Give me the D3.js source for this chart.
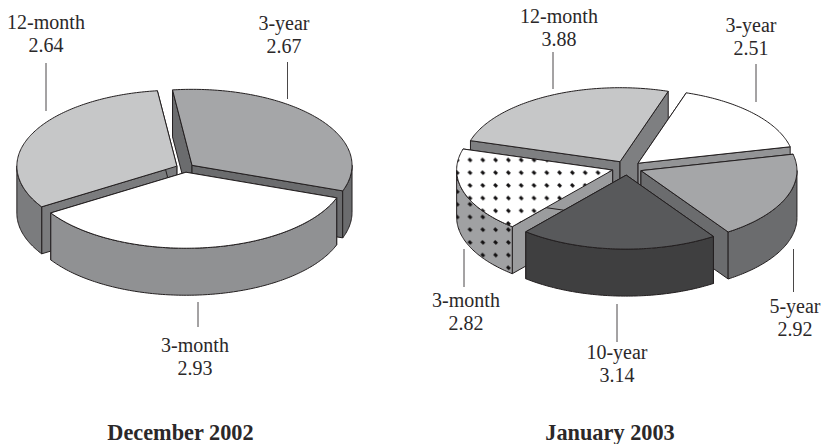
<!DOCTYPE html>
<html>
<head>
<meta charset="utf-8">
<script src="https://cdn.jsdelivr.net/npm/d3@7"></script>
<style>
html,body{margin:0;padding:0;background:#fff;}
svg{display:block;}
text{font-family:"Liberation Serif","Times New Roman",serif;fill:#2b2829;}
</style>
</head>
<body>
<div id="chart"></div>
<script>
// ---- data ----
const dec2002Categories = ["3-year", "3-month", "12-month"];
const dec2002Values = [2.67, 2.93, 2.64];
const jan2003Categories = ["3-year", "5-year", "10-year", "3-month", "12-month"];
const jan2003Values = [2.51, 2.92, 3.14, 2.82, 3.88];
const chartTitles = ["December 2002", "January 2003"];

// ---- styles and layout ----
const W = 822, H = 444;
const stroke = "#231f20";
const stylesDec = {
  "3-year":   {top:"#a5a6a8", wall:"#6b6c6e", outer:"#6b6c6e"},
  "3-month":  {top:"#ffffff", wall:"#909193", outer:"#909193"},
  "12-month": {top:"#c6c7c8", wall:"#7b7c7e", outer:"#7b7c7e"}
};
const stylesJan = {
  "3-year":   {top:"#ffffff", wall:"#939496", outer:"#939496"},
  "5-year":   {top:"#a5a6a8", wall:"#6b6c6e", outer:"#6b6c6e"},
  "10-year":  {top:"#58595b", wall:"#3f3f40", outer:"#3f3f40"},
  "3-month":  {top:"url(#dotsTop)", wall:"#9b9c9e", outer:"url(#dotsWall)"},
  "12-month": {top:"#c6c7c8", wall:"#7e7f81", outer:"#7e7f81"}
};
const pies = [
  {cats:dec2002Categories, vals:dec2002Values, styles:stylesDec,
   cx:185, cy:168, rx:160, ry:76, depth:47, explode:9, startDeg:-7,
   titleX:180.5,
   labels:{
     "12-month":{x:46,y:29,lx:46,ly1:63,ly2:111},
     "3-year":{x:284,y:30,lx:287.5,ly1:62,ly2:99},
     "3-month":{x:195,y:352,lx:198,ly1:302,ly2:327}
   }},
  {cats:jan2003Categories, vals:jan2003Values, styles:stylesJan,
   cx:627, cy:168, rx:156, ry:74, depth:47, explode:15, startDeg:18,
   titleX:610,
   labels:{
     "12-month":{x:559,y:23,lx:553,ly1:52,ly2:89},
     "3-year":{x:751,y:32,lx:756,ly1:64,ly2:102},
     "5-year":{x:795,y:313,lx:793.5,ly1:249,ly2:292},
     "10-year":{x:617,y:359,lx:617,ly1:304,ly2:342},
     "3-month":{x:466,y:307,lx:464,ly1:249,ly2:287}
   }}
];

const svg = d3.select("#chart").append("svg").attr("width",W).attr("height",H);

// dotted fill
const defs = svg.append("defs");
[["dotsTop","#ffffff",470,160],["dotsWall","#a0a1a3",470,217]].forEach(([id,bg,ox,oy])=>{
  const p = defs.append("pattern").attr("id",id).attr("patternUnits","userSpaceOnUse")
    .attr("x",ox-6.4).attr("y",oy-6.35).attr("width",12.8).attr("height",12.7);
  p.append("rect").attr("width",12.8).attr("height",12.7).attr("fill",bg);
  p.append("path").attr("d","M5 5L7.8 7.7").attr("stroke","#121011").attr("stroke-width",3).attr("fill","none");
});

const line = d3.line();
pies.forEach((cfg,pi)=>{
  const angle = d3.pie().sort(null).startAngle(cfg.startDeg*Math.PI/180).endAngle((cfg.startDeg+360)*Math.PI/180);
  const arcs = angle(cfg.vals).map((a,i)=>({...a,cat:cfg.cats[i]}));
  const g = svg.append("g");
  const proj = (c,t,dz=0)=>[c[0]+cfg.rx*Math.sin(t), c[1]-cfg.ry*Math.cos(t)+dz];
  const arcPts = (c,a0,a1,dz=0)=>{
    const n = Math.max(2,Math.ceil(Math.abs(a1-a0)*60));
    return d3.range(n+1).map(i=>proj(c,a0+(a1-a0)*i/n,dz));
  };
  arcs.forEach(a=>{
    a.mid=(a.startAngle+a.endAngle)/2;
    a.c=[cfg.cx+cfg.explode*Math.sin(a.mid), cfg.cy-cfg.explode*(cfg.ry/cfg.rx)*Math.cos(a.mid)];
  });
  // painter's order: back slices first
  const order = arcs.slice().sort((p,q)=>Math.cos(q.mid)-Math.cos(p.mid));
  const sg = g.selectAll("g.slice").data(order).join("g").attr("class","slice");
  sg.each(function(a){
    const s = d3.select(this), st = cfg.styles[a.cat], d=cfg.depth, c=a.c;
    const apex=c, apexB=[c[0],c[1]+d];
    [a.startAngle,a.endAngle].forEach(t=>{
      const e=proj(c,t), eb=proj(c,t,d);
      s.append("path").attr("d",line([apex,e,eb,apexB])+"Z")
        .attr("fill",st.wall).attr("stroke",stroke).attr("stroke-width",1).attr("stroke-linejoin","round");
    });
    // visible part of the rim: angles pointing toward the viewer
    const k = Math.floor((a.startAngle-Math.PI/2)/(2*Math.PI));
    for(let m=k-1;m<=k+1;m++){
      const lo=Math.max(a.startAngle,Math.PI/2+2*Math.PI*m), hi=Math.min(a.endAngle,3*Math.PI/2+2*Math.PI*m);
      if(hi>lo){
        const topEdge=arcPts(c,lo,hi), botEdge=arcPts(c,hi,lo,d);
        s.append("path").attr("d",line(topEdge.concat(botEdge))+"Z")
          .attr("fill",st.outer).attr("stroke",stroke).attr("stroke-width",1).attr("stroke-linejoin","round");
      }
    }
    s.append("path").attr("d",line([apex].concat(arcPts(c,a.startAngle,a.endAngle)))+"Z")
      .attr("fill",st.top).attr("stroke",stroke).attr("stroke-width",1).attr("stroke-linejoin","round");
  });
  // labels and leader lines
  const lab = g.selectAll("g.lab").data(arcs).join("g").attr("class","lab");
  lab.append("line")
    .attr("x1",a=>cfg.labels[a.cat].lx).attr("x2",a=>cfg.labels[a.cat].lx)
    .attr("y1",a=>cfg.labels[a.cat].ly1).attr("y2",a=>cfg.labels[a.cat].ly2)
    .attr("stroke","#4a4748").attr("stroke-width",1);
  lab.append("text").attr("text-anchor","middle").attr("font-size",20)
    .attr("x",a=>cfg.labels[a.cat].x).attr("y",a=>cfg.labels[a.cat].y).text(a=>a.cat);
  lab.append("text").attr("text-anchor","middle").attr("font-size",20)
    .attr("x",a=>cfg.labels[a.cat].x).attr("y",a=>cfg.labels[a.cat].y+22.5).text(a=>d3.format(".2f")(a.value));
  svg.append("text").attr("text-anchor","middle").attr("font-size",22.3).attr("font-weight","bold")
    .attr("x",cfg.titleX).attr("y",440).text(chartTitles[pi]);
});
</script>
</body>
</html>
